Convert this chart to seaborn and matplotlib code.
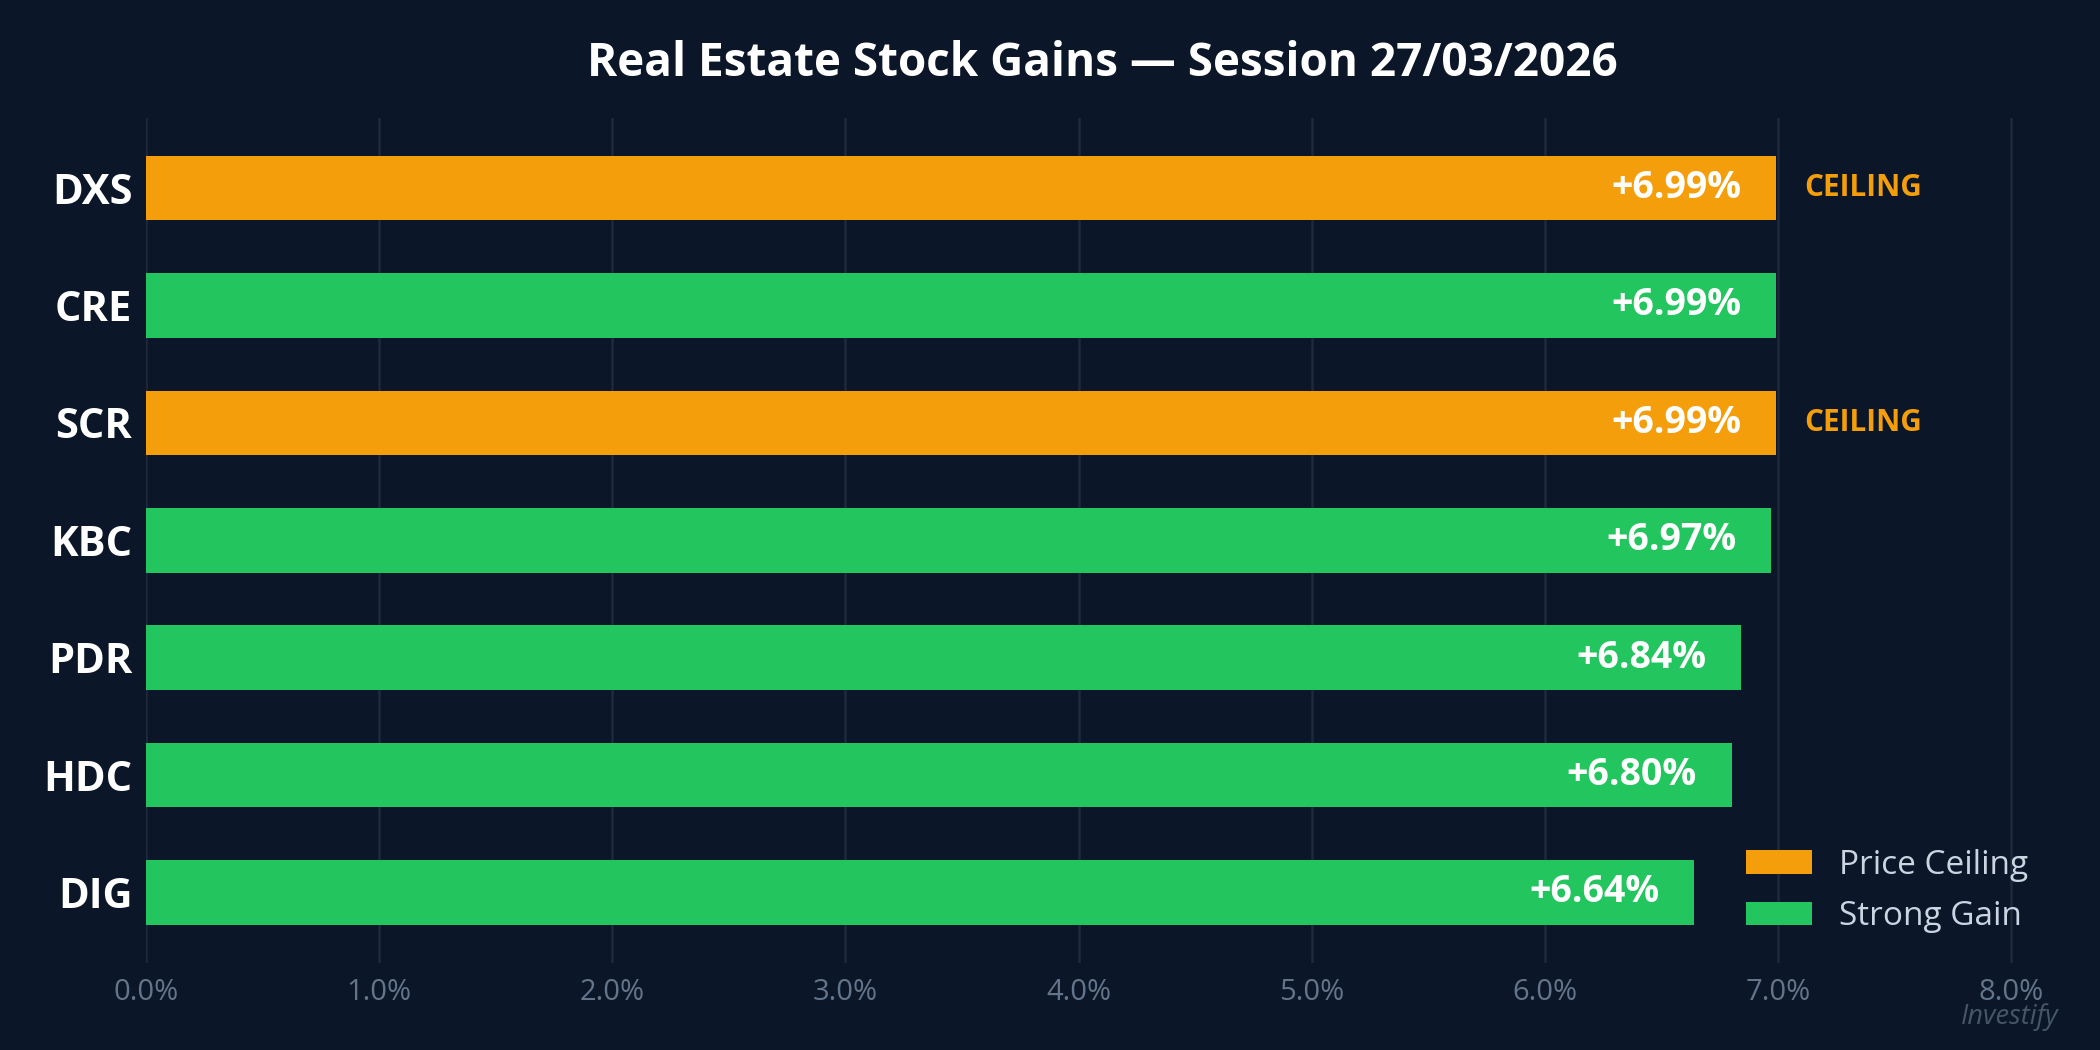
import matplotlib
matplotlib.use("Agg")
import matplotlib.pyplot as plt
import pandas as pd
import seaborn as sns

tickers = ["DXS", "CRE", "SCR", "KBC", "PDR", "HDC", "DIG"]
gains = [6.99, 6.99, 6.99, 6.97, 6.84, 6.80, 6.64]
status = ["Price Ceiling", "Strong Gain", "Price Ceiling", "Strong Gain",
          "Strong Gain", "Strong Gain", "Strong Gain"]
x_ticks = [0, 1, 2, 3, 4, 5, 6, 7, 8]

BG = "#0b1628"
colors = {"Price Ceiling": "#f59e0b", "Strong Gain": "#22c55e"}


def get_plot(df):
    sns.set_style("dark")
    plt.rcParams["font.family"] = ["Open Sans", "Noto Sans", "DejaVu Sans"]
    fig = plt.figure(figsize=(14, 7), dpi=150, facecolor=BG)
    ax = fig.add_axes([0.0695, 0.083, 0.9105, 0.805])
    ax.set_facecolor(BG)

    sns.barplot(data=df, x="gain", y="ticker", hue="status",
                hue_order=["Price Ceiling", "Strong Gain"], palette=colors,
                dodge=False, width=0.55, saturation=1, linewidth=0,
                edgecolor="none", ax=ax)

    ax.set_xlim(0, 8.2)
    ax.set_ylim(6.6, -0.6)
    ax.set_xticks(x_ticks)
    ax.set_xticklabels([f"{t:.1f}%" for t in x_ticks])
    ax.grid(axis="x", color="#1e293b", linewidth=1.2)
    ax.grid(axis="y", visible=False)
    ax.set_axisbelow(True)
    for s in ax.spines.values():
        s.set_visible(False)
    ax.tick_params(axis="x", colors="#475569", labelcolor="#64748b",
                   labelsize=14, length=4, width=1)
    ax.tick_params(axis="y", length=0, pad=6.5, labelcolor="white")
    for lab in ax.get_yticklabels():
        lab.set_fontsize(20)
        lab.set_fontweight("bold")
    ax.set_xlabel("")
    ax.set_ylabel("")

    for i, (g, st) in enumerate(zip(df["gain"], df["status"])):
        ax.text(g - 0.15, i, f"+{g:.2f}%", ha="right", va="center",
                color="white", fontsize=18, fontweight="bold")
        if st == "Price Ceiling":
            ax.text(g + 0.12, i, "CEILING", ha="left", va="center",
                    color="#f59e0b", fontsize=14.3, fontweight="bold")

    ax.set_title("Real Estate Stock Gains — Session 27/03/2026", color="white",
                 fontsize=22, fontweight="bold", pad=20)

    ax.legend(loc="lower right", bbox_to_anchor=(1.0, 0.0), frameon=False,
              fontsize=16, labelcolor="#cbd5e1", handlelength=2.0,
              handleheight=0.7, labelspacing=0.55, handletextpad=0.8)

    fig.text(0.957, 0.031, "Investify", ha="center", va="center",
             color="#475569", fontsize=13, style="italic")
    return fig


df = pd.DataFrame({"ticker": tickers, "gain": gains, "status": status})
figure = get_plot(df)
figure.savefig("out.png", facecolor=BG)
